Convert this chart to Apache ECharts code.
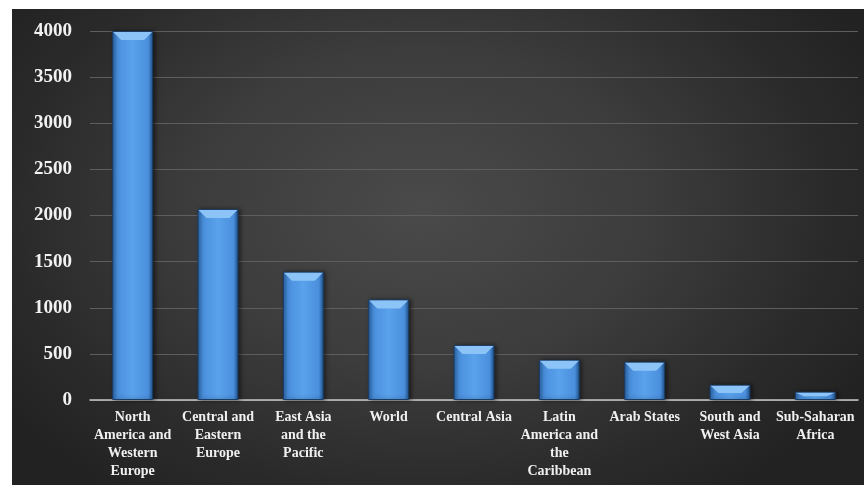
<!DOCTYPE html>
<html>
<head>
<meta charset="utf-8">
<script src="https://cdn.jsdelivr.net/npm/echarts@6/dist/echarts.min.js"></script>
<style>
html,body{margin:0;padding:0;width:864px;height:485px;background:#fff;overflow:hidden;}
#bg{position:absolute;left:12px;top:9px;width:852px;height:476px;
background:radial-gradient(ellipse 60% 75% at 48% 42%, #4a4a4a 0%, #3c3c3c 45%, #2a2a2a 80%, #222 100%);}
#c{position:absolute;left:12px;top:9px;width:852px;height:476px;}
</style>
</head>
<body>
<div id="bg"></div>
<div id="c"></div>
<script>
const categories = ["North\nAmerica and\nWestern\nEurope","Central and\nEastern\nEurope","East Asia\nand the\nPacific","World","Central Asia","Latin\nAmerica and\nthe\nCaribbean","Arab States","South and\nWest Asia","Sub-Saharan\nAfrica"];
const values = [4000, 2070, 1390, 1090, 595, 435, 415, 165, 90];
const yTicks = {min:0, max:4000, interval:500};

const chart = echarts.init(document.getElementById('c'), null, {renderer:'canvas'});
const barColor = new echarts.graphic.LinearGradient(0,0,1,0,[
  {offset:0,color:'#2a64a8'},
  {offset:0.12,color:'#4a8fdc'},
  {offset:0.5,color:'#5aa2ec'},
  {offset:0.88,color:'#4a8fdc'},
  {offset:1,color:'#1f4f88'}
]);
chart.setOption({
  animation:false,
  grid:{left:78,right:6,top:22,bottom:85,containLabel:false},
  xAxis:{type:'category',data:categories,
    axisLine:{lineStyle:{color:'#c8c8c8',width:1.5}},
    axisTick:{show:false},
    axisLabel:{color:'#f0f0f0',fontFamily:'Liberation Serif',fontWeight:'bold',fontSize:14,lineHeight:18,margin:8,interval:0}
  },
  yAxis:{type:'value',min:yTicks.min,max:yTicks.max,interval:yTicks.interval,
    axisLine:{show:false},axisTick:{show:false},
    splitLine:{lineStyle:{color:'#5e5e5e',width:1}},
    axisLabel:{color:'#f2f2f2',fontFamily:'Liberation Serif',fontWeight:'bold',fontSize:19,margin:18,
      formatter:function(v){return String(v);}}
  },
  series:[{
    type:'bar',data:values,barWidth:'48%',z:2,
    itemStyle:{color:barColor,borderColor:'#1a3d66',borderWidth:1,shadowColor:'rgba(0,0,0,0.5)',shadowBlur:4,shadowOffsetX:2}
  },{
    type:'custom',z:5,encode:{x:0,y:1},data:values.map((v,i)=>[i,v]),
    renderItem:function(params,api){
      const top=api.coord([api.value(0),api.value(1)]);
      const base=api.coord([api.value(0),0]);
      const bw=api.size([1,0])[0]*0.48;
      const x0=top[0]-bw/2+1, x1=top[0]+bw/2-1, y=top[1]+1;
      const d=Math.min(8,(base[1]-y)/2);
      return {type:'polygon',z2:10,shape:{points:[[x0,y],[x1,y],[x1-8,y+d],[x0+8,y+d]]},
        style:{fill:'#8cc4f7'}};
    }
  }]
});
</script>
</body>
</html>
